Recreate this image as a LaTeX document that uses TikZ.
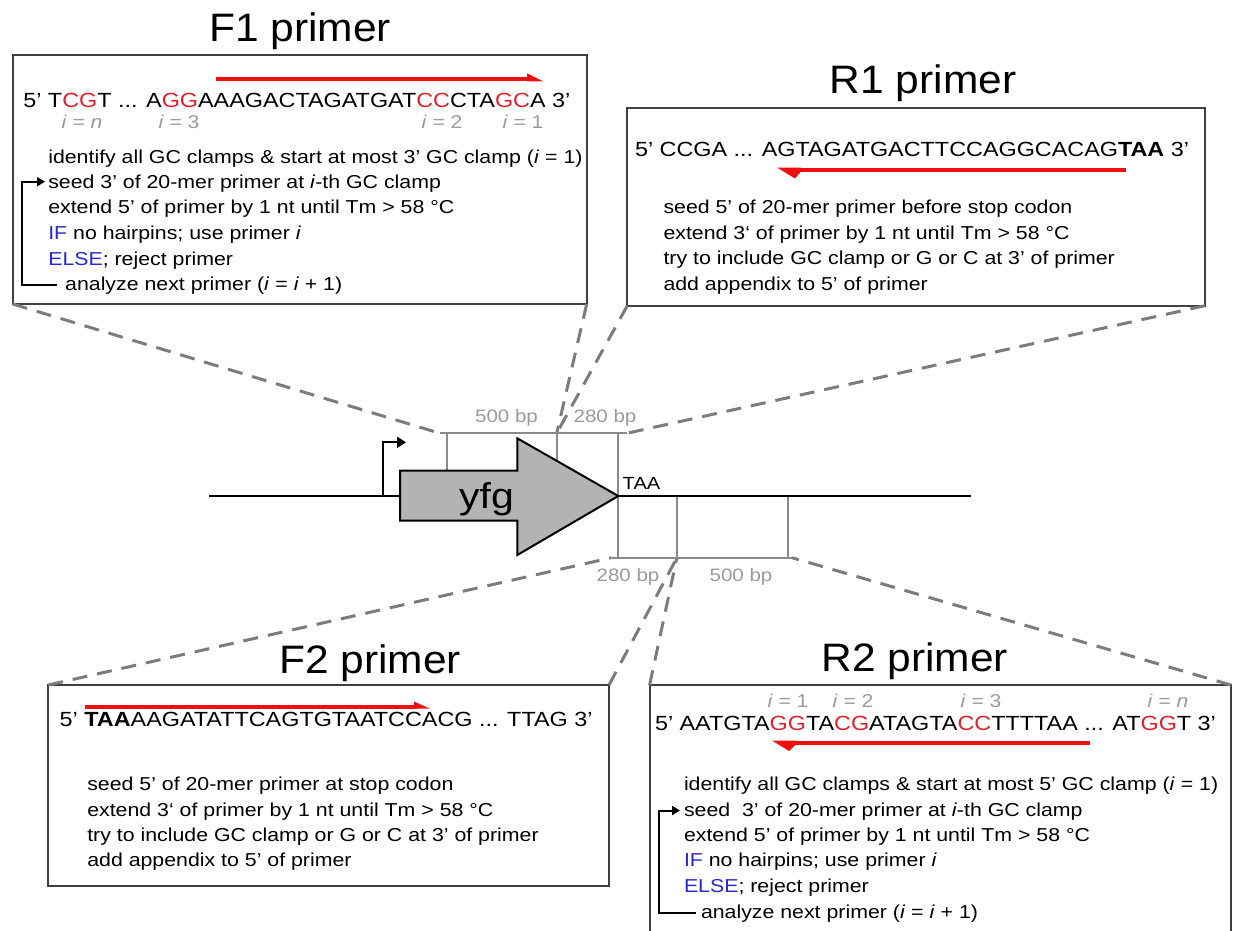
\documentclass[tikz,border=0pt]{standalone}
\usepackage{fontspec}
\setmainfont{Liberation Sans}[FakeStretch=1.14]
\newfontfamily\titlefont{Liberation Sans}[FakeStretch=1.07]
\usetikzlibrary{arrows.meta}
\definecolor{gcred}{HTML}{E3202A}
\definecolor{arrred}{HTML}{F01010}
\definecolor{kwblue}{HTML}{2A2ACC}
\definecolor{lblgray}{HTML}{9A9A9A}
\definecolor{brgray}{HTML}{8A8A8A}
\definecolor{dashgray}{HTML}{7C7C7C}
\definecolor{boxgray}{HTML}{404040}
\definecolor{genegray}{HTML}{B3B3B3}
\newcommand{\gc}[1]{\textcolor{gcred}{#1}}
\newcommand{\kw}[1]{\textcolor{kwblue}{#1}}
\begin{document}
\begin{tikzpicture}[x=1pt,y=-1pt,
 every node/.style={inner sep=0pt, outer sep=0pt},
 title/.style={font=\titlefont\fontsize{39.7}{46}\selectfont, anchor=base},
 seq/.style={font=\fontsize{20.5}{25}\selectfont, anchor=base west},
 body/.style={font=\fontsize{18.7}{23}\selectfont, anchor=base west},
 ilbl/.style={font=\fontsize{18.5}{22}\selectfont, text=lblgray, anchor=base},
 bplbl/.style={font=\fontsize{18}{22}\selectfont, text=lblgray, anchor=center},
 panel/.style={draw=boxgray, line width=2pt, anchor=north west},
 zoomline/.style={draw=dashgray, line width=3pt, dash pattern=on 15pt off 10pt},
 bracket/.style={draw=brgray, line width=2pt},
 primerarrow/.style={draw=arrred, line width=4pt},
 loopline/.style={draw=black, line width=2pt, -{Triangle[length=8pt,width=9pt]}},
]
\useasboundingbox (0,0) rectangle (1240,930);

% ---------- panels ----------
\node[panel, minimum width=574pt, minimum height=249pt] (f1box) at (12.7,55) {};
\node[panel, minimum width=577.7pt, minimum height=197.7pt] (r1box) at (627.3,108) {};
\node[panel, minimum width=560.7pt, minimum height=201pt] (f2box) at (48.3,685) {};
\coordinate (r2tl) at (649.6,685);
\coordinate (r2tr) at (1231,685);
\draw[boxgray, line width=2pt] (649.6,935) -- (r2tl) -- (r2tr) -- (1231,935);

% ---------- titles ----------
\node[title] (f1title) at (300,41.7) {F1 primer};
\node[title] (r1title) at (923,93.3) {R1 primer};
\node[title] (f2title) at (370,673) {F2 primer};
\node[title] (r2title) at (914.6,671.7) {R2 primer};

% ---------- gene map ----------
\coordinate (tbL) at (440,433.3);
\coordinate (tbM) at (556.7,433.3);
\coordinate (tbR) at (626.7,433.3);
\coordinate (bbL) at (611.5,557.7);
\coordinate (bbM) at (676.9,557.7);
\coordinate (bbR) at (792,557.7);

\draw[zoomline] (f1box.south west) -- (tbL);
\draw[zoomline] (f1box.south east) -- (tbM);
\draw[zoomline] (r1box.south west) -- (tbM);
\draw[zoomline] (r1box.south east) -- (tbR);
\draw[zoomline] (f2box.north west) -- (bbL);
\draw[zoomline] (f2box.north east) -- (bbM);
\draw[zoomline] (r2tl) -- (bbM);
\draw[zoomline] (r2tr) -- (bbR);

\draw[bracket] (tbL) -- (tbR);
\draw[bracket] (446.7,433.3) -- (446.7,470.7);
\draw[bracket] (556.7,433.3) -- (556.7,462);
\draw[bracket] (618.3,433.3) -- (618.3,557.7);
\draw[bracket] (bbL) -- (bbR);
\draw[bracket] (676.9,496) -- (676.9,557.7);
\draw[bracket] (787.7,496) -- (787.7,557.7);

\node[bplbl] (bp500a) at (506.5,418) {500 bp};
\node[bplbl] (bp280a) at (605,418) {280 bp};
\node[bplbl] (bp280b) at (628,576.7) {280 bp};
\node[bplbl] (bp500b) at (741,576.7) {500 bp};

\draw[black, line width=2.5pt] (208.8,496) -- (970.8,496);
\draw[black, line width=2pt, -{Triangle[length=9pt,width=11pt]}] (383.3,496) |- (406,442.3);
\draw[black, line width=2pt, line join=miter, fill=genegray]
  (400,470.7) -- (517.3,470.7) -- (517.3,438.3) -- (618.3,496)
  -- (517.3,555) -- (517.3,520.7) -- (400,520.7) -- cycle;
\node[font=\fontsize{36}{42}\selectfont, anchor=base] (yfg) at (486.5,508.5) {yfg};
\node[font=\fontsize{17.6}{21}\selectfont, anchor=center] (taa) at (641.5,483.5) {TAA};

% ---------- F1 panel ----------
\draw[primerarrow] (216,79.3) -- (530,79.3);
\fill[arrred] (527,73.3) -- (543,81.3) -- (527,81.3) -- cycle;
\node[seq] (f1seq) at (23.3,107.3) {5’ T\gc{CG}T ... A\gc{GG}AAAGACTAGATGAT\gc{CC}CTA\gc{GC}A 3’};
\node[ilbl] (f1in) at (82,128) {\textit{i} = \textit{n}};
\node[ilbl] (f1i3) at (179,128) {\textit{i} = 3};
\node[ilbl] (f1i2) at (442,128) {\textit{i} = 2};
\node[ilbl] (f1i1) at (523,128) {\textit{i} = 1};
\node[body] (f1l1) at (48.3,163) {identify all GC clamps \& start at most 3’ GC clamp (\textit{i} = 1)};
\node[body] (f1l2) at (48.3,188.5) {seed 3’ of 20-mer primer at \textit{i}-th GC clamp};
\node[body] (f1l3) at (48.3,213.7) {extend 5’ of primer by 1 nt until Tm > 58 °C};
\node[body] (f1l4) at (48.3,239.3) {\kw{IF} no hairpins; use primer \textit{i}};
\node[body] (f1l5) at (48.3,265) {\kw{ELSE}; reject primer};
\node[body] (f1l6) at (65.2,290.7) {analyze next primer (\textit{i} = \textit{i} + 1)};
\draw[loopline] (57.3,285) -| (21.7,181.7) -- (45,181.7);

% ---------- R1 panel ----------
\node[seq] (r1seq) at (635,156) {5’ CCGA ... AGTAGATGACTTCCAGGCACAG\textbf{TAA} 3’};
\draw[primerarrow] (795,169.5) -- (1126,169.5);
\fill[arrred] (777,167.5) -- (801,167.5) -- (801,171.5) -- (795,178.5) -- cycle;
\node[body] (r1l1) at (663.5,213.3) {seed 5’ of 20-mer primer before stop codon};
\node[body] (r1l2) at (663.5,239) {extend 3‘ of primer by 1 nt until Tm > 58 °C};
\node[body] (r1l3) at (663.5,264) {try to include GC clamp or G or C at 3’ of primer};
\node[body] (r1l4) at (663.5,290) {add appendix to 5’ of primer};

% ---------- F2 panel ----------
\draw[primerarrow] (85,706.7) -- (417,706.7);
\fill[arrred] (414,701.5) -- (430,708.7) -- (414,708.7) -- cycle;
\node[seq] (f2seq) at (59.7,726) {5’ \textbf{TAA}AAGATATTCAGTGTAATCCACG ... TTAG 3’};
\node[body] (f2l1) at (87.3,790.7) {seed 5’ of 20-mer primer at stop codon};
\node[body] (f2l2) at (87.3,816.7) {extend 3‘ of primer by 1 nt until Tm > 58 °C};
\node[body] (f2l3) at (87.3,841.7) {try to include GC clamp or G or C at 3’ of primer};
\node[body] (f2l4) at (87.3,866.7) {add appendix to 5’ of primer};

% ---------- R2 panel ----------
\node[ilbl] (r2i1) at (788,707) {\textit{i} = 1};
\node[ilbl] (r2i2) at (853,707) {\textit{i} = 2};
\node[ilbl] (r2i3) at (981,707) {\textit{i} = 3};
\node[ilbl] (r2in) at (1168,707) {\textit{i} = \textit{n}};
\node[seq] (r2seq) at (655,730) {5’ AATGTA\gc{GG}TA\gc{CG}ATAGTA\gc{CC}TTTTAA ... AT\gc{GG}T 3’};
\draw[primerarrow] (792,742.5) -- (1089.7,742.5);
\fill[arrred] (772,740.5) -- (796,740.5) -- (796,744.5) -- (789,751) -- cycle;
\node[body] (r2l1) at (684,790.7) {identify all GC clamps \& start at most 5’ GC clamp (\textit{i} = 1)};
\node[body] (r2l2) at (684,816.7) {seed~ 3’ of 20-mer primer at \textit{i}-th GC clamp};
\node[body] (r2l3) at (684,841.7) {extend 5’ of primer by 1 nt until Tm > 58 °C};
\node[body] (r2l4) at (684,866.7) {\kw{IF} no hairpins; use primer \textit{i}};
\node[body] (r2l5) at (684,892.7) {\kw{ELSE}; reject primer};
\node[body] (r2l6) at (701,918.3) {analyze next primer (\textit{i} = \textit{i} + 1)};
\draw[loopline] (695.5,913.3) -| (659,810.5) -- (680,810.5);
\end{tikzpicture}
\end{document}
